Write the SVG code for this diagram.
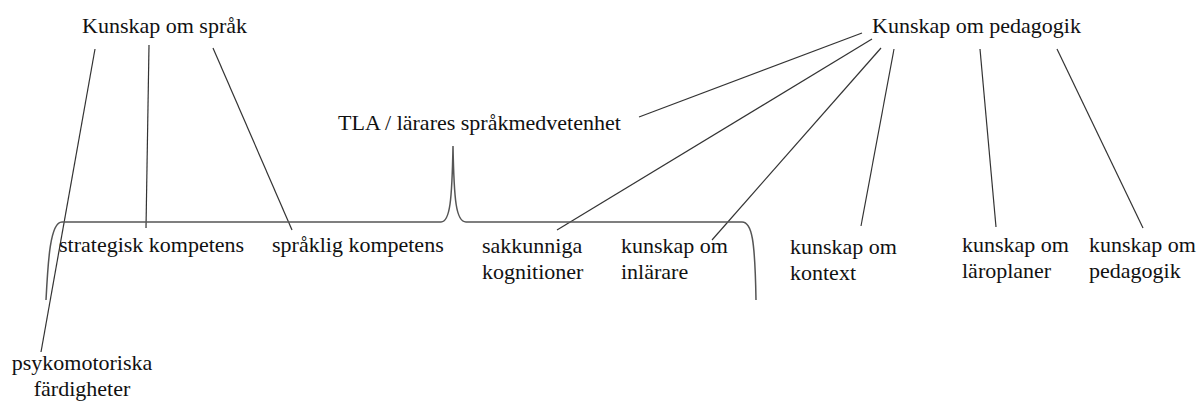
<svg xmlns="http://www.w3.org/2000/svg" width="1198" height="401" viewBox="0 0 1198 401">
<style>
text{font-family:"Liberation Serif","Times New Roman",serif;font-size:22px;fill:#111}
.c{stroke:#333;stroke-width:1.2;fill:none}
.b{stroke:#555;stroke-width:1.5;fill:none}
</style>
<rect width="1198" height="401" fill="#fff"/>
<g id="connectors">
<line class="c" x1="95" y1="49" x2="41" y2="352"/>
<line class="c" x1="149" y1="45" x2="146" y2="228"/>
<line class="c" x1="213" y1="48" x2="292" y2="230"/>
<line class="c" x1="862" y1="33" x2="639" y2="117"/>
<line class="c" x1="872" y1="39" x2="557" y2="230"/>
<line class="c" x1="881" y1="48" x2="712" y2="240"/>
<line class="c" x1="894" y1="49" x2="861" y2="226"/>
<line class="c" x1="980" y1="49" x2="996" y2="227"/>
<line class="c" x1="1057" y1="49" x2="1143" y2="228"/>
<path class="b" d="M46,300 C48,262 50,222 62,222 L441,222 C450,222 452,200 453,146 C454,200 456,222 466,222 L742,222 C752,222 755,240 756,300"/>
</g>
<g id="n-sprak"><text x="82" y="33">Kunskap om språk</text></g>
<g id="n-pedagogik"><text x="872" y="33">Kunskap om pedagogik</text></g>
<g id="n-tla"><text x="338" y="130">TLA / lärares språkmedvetenhet</text></g>
<g id="n-strategisk"><text x="59" y="252">strategisk kompetens</text></g>
<g id="n-spraklig"><text x="272" y="252">språklig kompetens</text></g>
<g id="n-sakkunniga"><text x="482" y="253">sakkunniga</text><text x="482" y="279">kognitioner</text></g>
<g id="n-inlarare"><text x="621" y="253">kunskap om</text><text x="621" y="279">inlärare</text></g>
<g id="n-kontext"><text x="790" y="254">kunskap om</text><text x="790" y="280">kontext</text></g>
<g id="n-laroplaner"><text x="962" y="252">kunskap om</text><text x="962" y="278">läroplaner</text></g>
<g id="n-ped2"><text x="1089" y="252">kunskap om</text><text x="1089" y="278">pedagogik</text></g>
<g id="n-psyko"><text x="82" y="370" text-anchor="middle">psykomotoriska</text><text x="82" y="396" text-anchor="middle">färdigheter</text></g>
</svg>
